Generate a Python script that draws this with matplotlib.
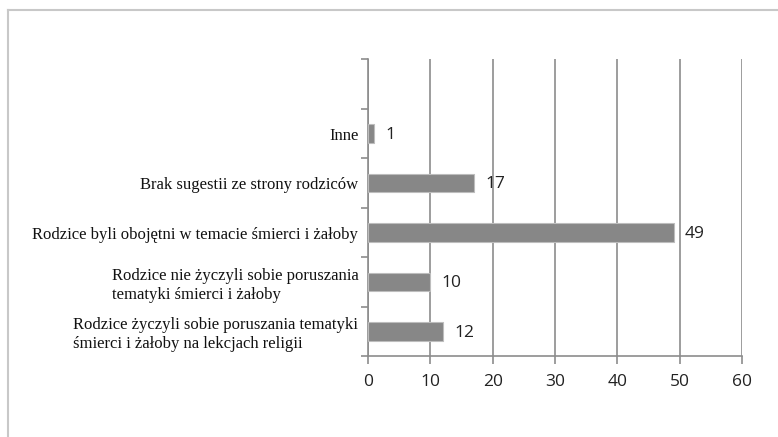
import numpy as np
import matplotlib.pyplot as plt
from matplotlib.lines import Line2D

# dane (od dołu do góry)
kategorie = [
    "Rodzice życzyli sobie poruszania tematyki\nśmierci i żałoby na lekcjach religii",
    "Rodzice nie życzyli sobie poruszania\ntematyki śmierci i żałoby",
    "Rodzice byli obojętni w temacie śmierci i żałoby",
    "Brak sugestii ze strony rodziców",
    "Inne",
]
wartosci = [12, 10, 49, 17, 1]
x_ticks = [0, 10, 20, 30, 40, 50, 60]

fig = plt.figure(figsize=(7.78, 4.37), dpi=100)
ax = fig.add_axes([0.473, 0.185, 0.481, 0.679])

y = np.arange(len(kategorie))
ax.barh(y, wartosci, height=0.38, color='#878787', edgecolor='#bdbdbd', linewidth=0.8, zorder=3)

for yi, v in zip(y, wartosci):
    ax.annotate(str(v), (v, yi), xytext=(8, -1), textcoords='offset points',
                ha='left', va='center', fontsize=12.5, family='Open Sans', color='#222222')

ax.set_xlim(0, 60)
ax.set_ylim(-0.5, len(kategorie) + 0.5)  # puste miejsce na górze
ax.set_xticks(x_ticks)
ax.set_xticklabels([str(t) for t in x_ticks], family='Open Sans', fontsize=12.5, color='#222222')
ax.set_yticks(y)
ax.set_yticklabels(kategorie, family='Liberation Serif', fontsize=12, color='#111111',
                   linespacing=1.25)
for lab in ax.get_yticklabels():
    lab.set_multialignment('left')
ax.set_yticks(np.arange(-0.5, len(kategorie) + 1, 1), minor=True)

ax.tick_params(axis='y', which='major', length=0, pad=7)
ax.tick_params(axis='y', which='minor', length=5, color='#8c8c8c', width=1.2)
ax.tick_params(axis='x', length=6, color='#8c8c8c', width=1.2, pad=7)

ax.grid(axis='x', color='#8c8c8c', linewidth=1.2, zorder=0)
for s in ['top', 'right']:
    ax.spines[s].set_visible(False)
for s in ['left', 'bottom']:
    ax.spines[s].set_color('#8c8c8c')
    ax.spines[s].set_linewidth(1.2)

# ramka wokół wykresu
fig.add_artist(Line2D([8/778, 8/778], [0, 1 - 10/437], transform=fig.transFigure, color='#c8c8c8', lw=1.5))
fig.add_artist(Line2D([8/778, 1], [1 - 10/437, 1 - 10/437], transform=fig.transFigure, color='#c8c8c8', lw=1.5))

fig.savefig('out.png', dpi=100)
